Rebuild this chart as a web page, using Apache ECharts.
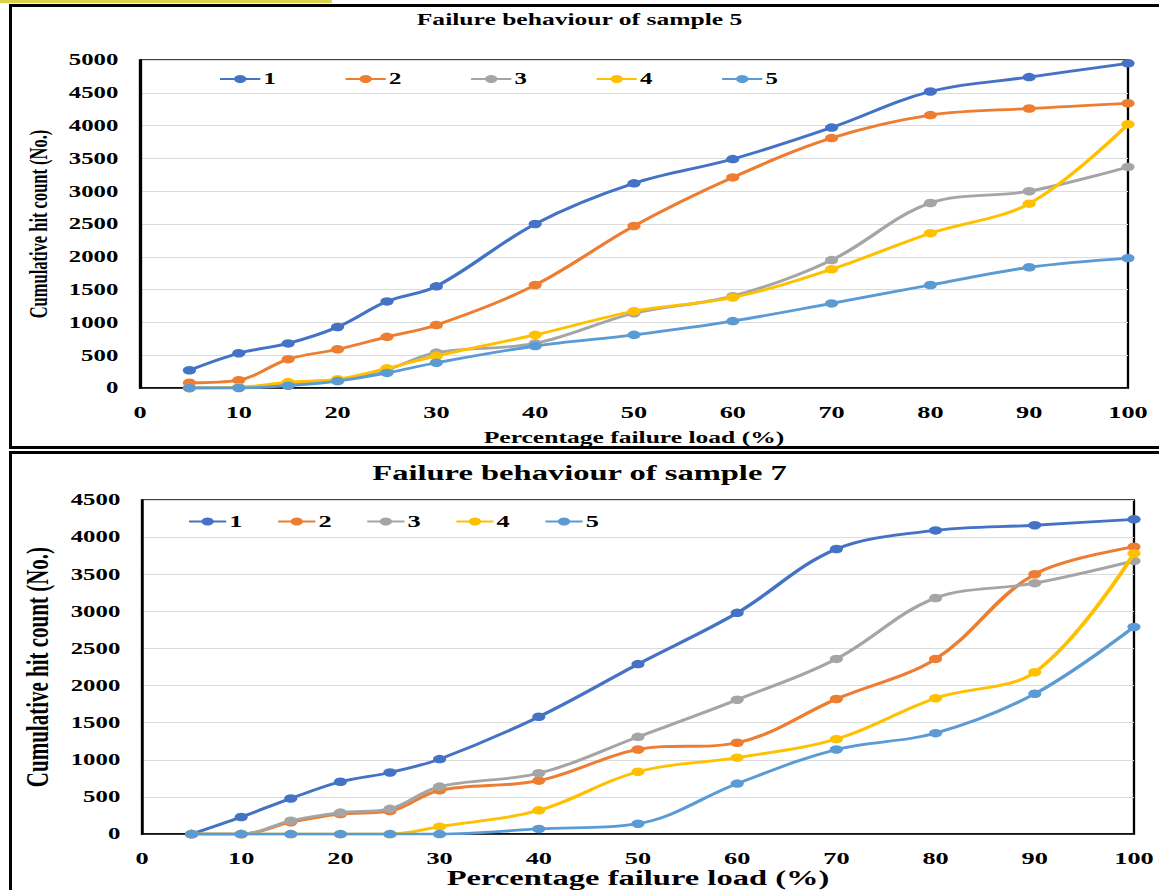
<!DOCTYPE html>
<html>
<head>
<meta charset="utf-8">
<script src="https://cdn.jsdelivr.net/npm/echarts@6/dist/echarts.min.js"></script>
<style>
  html, body { margin: 0; padding: 0; background: #fff; width: 1159px; height: 890px; overflow: hidden; }
  #wrap { position: absolute; left: 0; top: 0; width: 748px; height: 890px; transform: scaleX(1.5495); transform-origin: 0 0; }
  .box { position: absolute; border: 3px solid #000; box-sizing: border-box; }
  #yl { position: absolute; left: 0; top: 0; width: 332px; height: 3px; background: #d9d24a; }
</style>
</head>
<body>
<div id="yl"></div>
<div class="box" style="left:9px; top:4px; width:1160px; height:445px;"></div>
<div class="box" style="left:9px; top:451px; width:1160px; height:450px;"></div>
<div id="wrap"></div>
<script>
// Percentage failure load (x values)
const loads = [5, 10, 15, 20, 25, 30, 40, 50, 60, 70, 80, 90, 100];
const seriesNames = ['1', '2', '3', '4', '5'];
const colors = ['#4472C4', '#ED7D31', '#A5A5A5', '#FFC000', '#5B9BD5'];

// Sample 5 — cumulative hit count
const s5_1 = [270, 530, 680, 930, 1320, 1550, 2500, 3120, 3490, 3970, 4520, 4740, 4950];
const s5_2 = [80, 120, 440, 590, 780, 960, 1570, 2470, 3210, 3810, 4160, 4260, 4340];
const s5_3 = [0, 10, 60, 120, 280, 540, 680, 1140, 1400, 1950, 2820, 3000, 3370];
const s5_4 = [0, 10, 90, 135, 300, 490, 810, 1170, 1380, 1810, 2360, 2810, 4020];
const s5_5 = [0, 0, 35, 105, 230, 385, 640, 810, 1020, 1290, 1570, 1840, 1980];

// Sample 7 — cumulative hit count
const s7_1 = [0, 230, 480, 705, 830, 1010, 1580, 2290, 2980, 3840, 4090, 4160, 4240];
const s7_2 = [0, 0, 160, 270, 310, 590, 720, 1140, 1230, 1820, 2360, 3500, 3870];
const s7_3 = [0, 0, 180, 290, 340, 640, 820, 1310, 1810, 2360, 3180, 3380, 3680];
const s7_4 = [0, 0, 0, 0, 0, 100, 320, 840, 1030, 1280, 1830, 2180, 3780];
const s7_5 = [0, 0, 0, 0, 0, 0, 70, 140, 680, 1140, 1360, 1890, 2790];

const titles = ['Failure behaviour of sample 5', 'Failure behaviour of sample 7'];
const xName = 'Percentage failure load (%)';
const yName = 'Cumulative hit count (No.)';

const FONT = "'Liberation Serif', 'Times New Roman', serif";
const top5 = [s5_1, s5_2, s5_3, s5_4, s5_5];
const bot7 = [s7_1, s7_2, s7_3, s7_4, s7_5];

function mkSeries(arrs, idx) {
  return arrs.map((vals, i) => ({
    name: seriesNames[i],
    type: 'line',
    xAxisIndex: idx, yAxisIndex: idx,
    data: loads.map((x, j) => [x, vals[j]]),
    smooth: 0.35,
    symbol: 'circle',
    symbolSize: 8.5,
    lineStyle: { width: 2.8, color: colors[i] },
    itemStyle: { color: colors[i] },
    z: 2 + i
  }));
}

function xAxis(idx, fs, margin, nameFs, nameGap) {
  return {
    gridIndex: idx, type: 'value', min: 0, max: 100, interval: 10,
    axisLine: { show: true, lineStyle: { color: '#000', width: 1.5 } },
    axisTick: { show: false },
    splitLine: { show: false },
    axisLabel: { color: '#000', fontFamily: FONT, fontWeight: 'bold', fontSize: fs, margin: margin },
    name: xName, nameLocation: 'middle', nameGap: nameGap,
    nameTextStyle: { color: '#000', fontFamily: FONT, fontWeight: 'bold', fontSize: nameFs }
  };
}
function yAxis(idx, max, fs, nameFs, nameGap) {
  return {
    gridIndex: idx, type: 'value', min: 0, max: max, interval: 500,
    axisLine: { show: true, lineStyle: { color: '#000', width: 1.5 } },
    axisTick: { show: false },
    splitLine: { show: true, lineStyle: { color: '#dcdcdc', width: 1 } },
    axisLabel: { color: '#000', fontFamily: FONT, fontWeight: 'bold', fontSize: fs, margin: 14,
      formatter: v => String(v) },
    name: yName, nameLocation: 'middle', nameGap: nameGap,
    nameTextStyle: { color: '#000', fontFamily: FONT, fontWeight: 'bold', fontSize: nameFs }
  };
}

const chart = echarts.init(document.getElementById('wrap'), null, { renderer: 'svg' });
chart.setOption({
  animation: false,
  backgroundColor: 'transparent',
  title: [
    { text: titles[0], left: 'center', top: 11, padding: 0,
      textStyle: { fontFamily: FONT, fontWeight: 'bold', fontSize: 16.5, color: '#000' } },
    { text: titles[1], left: 'center', top: 463, padding: 0,
      textStyle: { fontFamily: FONT, fontWeight: 'bold', fontSize: 21, color: '#000' } }
  ],
  legend: [
    { data: seriesNames, left: 141, top: 71, padding: 0, itemWidth: 26, itemHeight: 10, itemGap: 44,
      textStyle: { fontFamily: FONT, fontWeight: 'bold', fontSize: 16, color: '#000', padding: [0, 0, 0, -3] } },
    { data: seriesNames, left: 121, top: 513, padding: 0, itemWidth: 24, itemHeight: 10, itemGap: 22,
      textStyle: { fontFamily: FONT, fontWeight: 'bold', fontSize: 17, color: '#000', padding: [0, 0, 0, -3] } }
  ],
  grid: [
    { left: 90.35, right: 20.03, top: 60, height: 328, show: true, borderColor: '#000', borderWidth: 1.5, backgroundColor: 'transparent' },
    { left: 91.64, right: 16.16, top: 500, height: 338, show: true, borderColor: '#000', borderWidth: 1.5, backgroundColor: 'transparent' }
  ],
  xAxis: [ xAxis(0, 17, 16, 16.5, 41), xAxis(1, 17, 16, 21, 27) ],
  yAxis: [ yAxis(0, 5000, 16, 16.5, 50), yAxis(1, 4500, 16, 21, 46) ],
  series: mkSeries(top5, 0).concat(mkSeries(bot7, 1))
});
</script>
</body>
</html>
